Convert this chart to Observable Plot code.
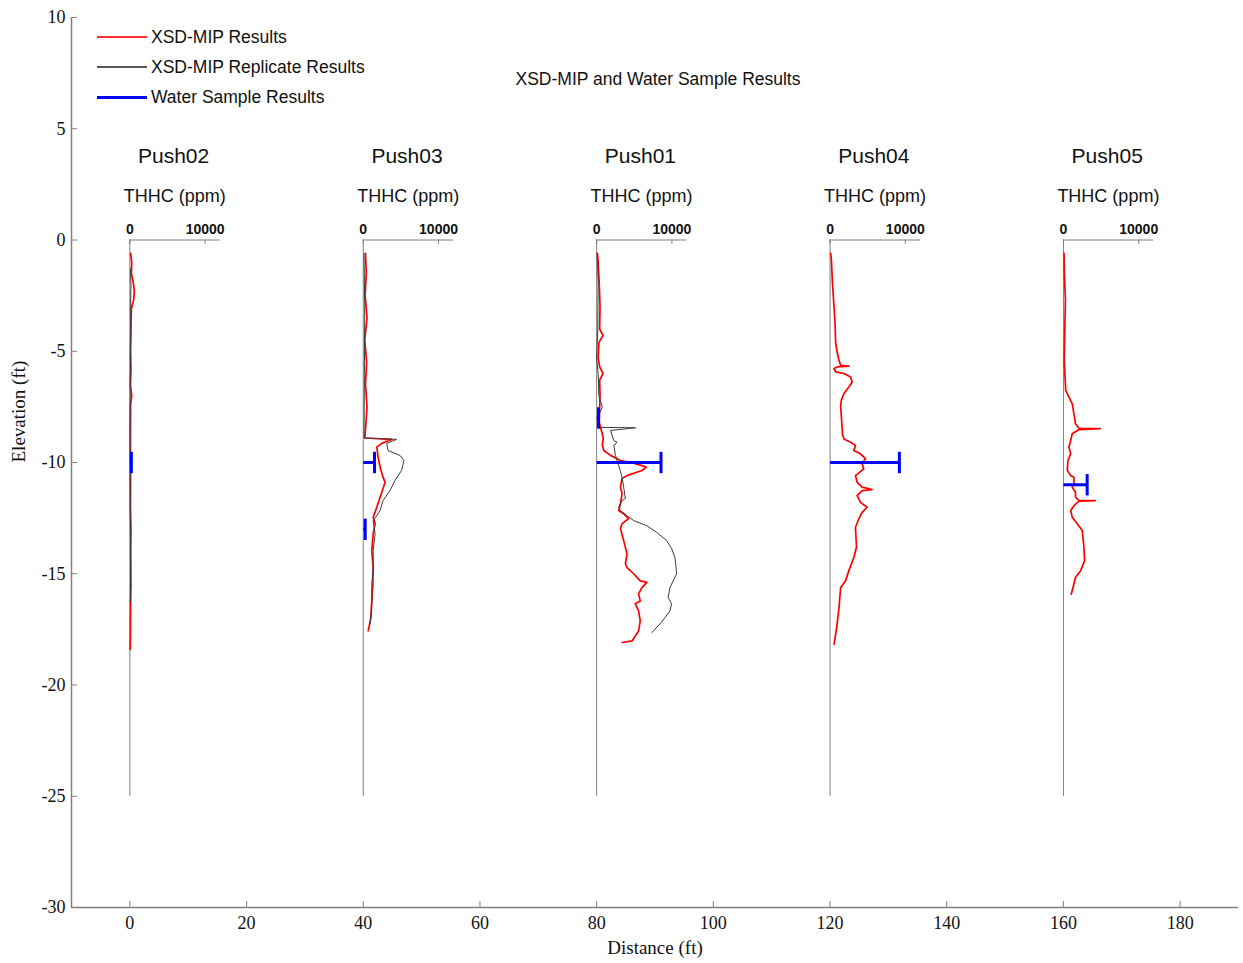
<!DOCTYPE html>
<html><head><meta charset="utf-8">
<script src="https://cdn.jsdelivr.net/npm/d3@7"></script>
<script src="https://cdn.jsdelivr.net/npm/@observablehq/plot@0.6"></script>
<style>
body{margin:0;background:#fff;}
#wrap{position:relative;width:1243px;height:963px;}
.ov{position:absolute;font-family:"Liberation Sans",Arial,sans-serif;font-size:17.5px;color:#111;white-space:nowrap;line-height:20px;height:20px;}
.sw{position:absolute;}
</style></head><body><div id="wrap"></div>
<script>
// ---------- data ----------
const pushes = ["Push02", "Push03", "Push01", "Push04", "Push05"];
const pushDistance = [0, 40, 80, 120, 160];
const pushDepth = -25;
const thhcTicks = [0, 10000];
const thhcAxisMax = 12000;
const xTicks = [0, 20, 40, 60, 80, 100, 120, 140, 160, 180];
const yTicks = [-30, -25, -20, -15, -10, -5, 0, 5, 10];
const xDomain = [-10, 190];
const yDomain = [-30, 10];

// XSD-MIP results [elevation ft, THHC ppm]
const push02Mip = [[-0.6,100],[-1.0,250],[-1.5,200],[-1.9,450],[-2.3,600],[-2.7,500],[-3.1,200],[-4.0,150],[-5.0,100],[-5.8,150],[-6.5,80],[-7.0,250],[-7.4,100],[-9.0,80],[-10.5,100],[-12.0,80],[-13.0,150],[-14.0,120],[-15.5,150],[-16.5,100],[-17.5,80],[-18.4,60]];
const push03Mip = [[-0.6,300],[-1.5,400],[-2.5,250],[-3.5,500],[-4.5,200],[-5.5,450],[-6.5,300],[-7.5,500],[-8.5,300],[-8.9,200],[-8.96,3780],[-9.14,2460],[-9.31,1800],[-9.76,1970],[-10.21,2240],[-10.66,2630],[-10.89,2900],[-11.17,2630],[-11.56,2240],[-12.01,1800],[-12.46,1320],[-12.75,1580],[-13.2,1320],[-13.96,1140],[-14.72,1320],[-15.45,1280],[-16.22,1140],[-16.97,1010],[-17.57,660]];
const push01Mip = [[-0.6,100],[-1.0,200],[-2.0,350],[-3.0,450],[-4.0,400],[-4.3,850],[-4.6,300],[-5.3,200],[-5.7,400],[-6.0,850],[-6.3,400],[-7.0,450],[-7.5,400],[-8.2,350],[-8.71,750],[-8.92,880],[-9.23,750],[-9.46,960],[-9.68,1840],[-9.91,3160],[-9.99,4470],[-10.14,6010],[-10.21,6580],[-10.36,6010],[-10.59,4040],[-10.72,3380],[-11.11,3160],[-11.4,3380],[-11.85,3160],[-12.16,2930],[-12.3,3590],[-12.46,4040],[-12.52,4250],[-12.75,3380],[-12.97,3160],[-13.51,3590],[-14.1,4040],[-14.55,3820],[-14.72,4040],[-15.0,4910],[-15.32,5790],[-15.39,6670],[-15.62,6010],[-15.9,5570],[-16.22,5790],[-16.35,5130],[-16.67,5570],[-17.12,5790],[-17.57,5570],[-18.02,4700],[-18.09,3380]];
const push04Mip = [[-0.6,90],[-0.9,180],[-1.95,320],[-3.0,530],[-3.74,660],[-4.64,750],[-5.09,970],[-5.41,1190],[-5.63,1410],[-5.67,2500],[-5.70,1000],[-5.78,530],[-5.93,750],[-6.0,1850],[-6.16,2720],[-6.38,2940],[-6.61,2500],[-6.9,1850],[-7.21,1490],[-7.51,1410],[-8.11,1540],[-8.56,1630],[-8.71,1630],[-8.94,1850],[-9.09,2720],[-9.23,3380],[-9.46,3160],[-9.61,4040],[-9.83,4700],[-10.06,4260],[-10.29,4480],[-10.59,3380],[-10.89,3600],[-11.11,4260],[-11.22,5570],[-11.26,4260],[-11.49,3600],[-11.79,4040],[-12.01,4920],[-12.24,4260],[-12.53,3820],[-12.91,3380],[-13.81,3510],[-14.27,3160],[-14.86,2500],[-15.32,2060],[-15.62,1410],[-16.52,1190],[-17.42,880],[-18.17,530]];
const push05Mip = [[-0.6,80],[-1.5,120],[-2.7,260],[-4.05,180],[-5.4,100],[-6.76,300],[-7.06,730],[-7.36,1170],[-7.81,1390],[-8.26,1600],[-8.46,2060],[-8.48,4900],[-8.52,2060],[-8.71,1170],[-9.01,960],[-9.31,730],[-9.61,960],[-9.91,600],[-10.36,510],[-10.59,960],[-10.66,1390],[-10.96,1390],[-11.11,1170],[-11.34,1600],[-11.56,1600],[-11.70,2060],[-11.71,4240],[-11.74,2060],[-11.94,1390],[-12.16,960],[-12.46,1170],[-12.75,1830],[-13.06,2500],[-13.81,2720],[-14.41,2810],[-14.86,2280],[-15.17,1600],[-15.46,1390],[-15.92,1040]];

// XSD-MIP replicate results
const push02Rep = [[-1.3,80],[-2.0,150],[-3.0,100],[-4.0,120],[-5.5,60],[-7.5,40],[-10.0,40],[-13.5,80],[-15.0,100],[-16.3,60]];
const push03Rep = [[-0.6,100],[-3.0,200],[-6.0,150],[-8.9,100],[-8.96,4430],[-9.14,3120],[-9.46,3290],[-9.68,4870],[-9.91,5400],[-10.36,5090],[-10.81,4210],[-11.26,3550],[-11.71,2630],[-12.16,2240],[-12.39,1800],[-12.61,1320],[-13.2,1580],[-13.96,1320],[-14.73,1320],[-15.45,1140],[-16.22,1140],[-16.98,1010],[-17.25,920]];
const push01Rep = [[-0.6,100],[-2.0,200],[-4.0,150],[-5.3,0],[-6.0,200],[-7.0,300],[-7.51,750],[-7.79,390],[-8.42,150],[-8.44,5170],[-8.56,1840],[-9.01,2280],[-9.09,2720],[-9.23,2280],[-9.68,2500],[-10.14,2930],[-10.66,3380],[-11.11,3590],[-11.62,3820],[-11.71,3380],[-12.01,2930],[-12.16,3160],[-12.39,4040],[-12.61,4910],[-12.84,6670],[-13.14,7990],[-13.51,9300],[-13.87,9960],[-14.27,10400],[-14.64,10530],[-15.0,10620],[-15.32,10170],[-15.62,9740],[-16.07,9510],[-16.35,9960],[-16.67,9740],[-16.97,9080],[-17.25,8420],[-17.64,7330]];

// Water sample results
const waterPush = ["Push02", "Push03", "Push03", "Push01", "Push01", "Push04", "Push05"];
const waterElev = [-10, -10, -13.0, -8.0, -10, -10, -11.0];
const waterPpm = [200, 1500, 260, 250, 8550, 9210, 3150];

// ---------- build ----------
const k = 0.00129; // ft of distance per ppm in the profile panels
const posOf = Object.fromEntries(pushes.map((p, i) => [p, pushDistance[i]]));
const pushRows = pushes.map((p, i) => ({name: p, pos: pushDistance[i]}));
const tickRows = pushRows.flatMap(d => thhcTicks.map(v => ({pos: d.pos, v})));
function rows(map) {
  const out = [];
  for (const [name, arr] of Object.entries(map)) for (const [e, p] of arr) out.push({push: name, elev: e, ppm: p});
  return out;
}
const mipRows = rows({Push02: push02Mip, Push03: push03Mip, Push01: push01Mip, Push04: push04Mip, Push05: push05Mip});
const repRows = rows({Push02: push02Rep, Push03: push03Rep, Push01: push01Rep});
const waterRows = waterPush.map((p, i) => ({push: p, elev: waterElev[i], ppm: waterPpm[i]}));
const px = d => posOf[d.push] + d.ppm * k;

const serif = "'Liberation Serif','Times New Roman',serif";
const sans = "'Liberation Sans',Arial,sans-serif";
const grey = "#808080";

const chart = Plot.plot({
  width: 1243, height: 963,
  marginLeft: 71, marginRight: 5, marginTop: 17, marginBottom: 56,
  x: {domain: xDomain},
  y: {domain: yDomain},
  style: {fontFamily: serif, background: "#fff"},
  marks: [
    Plot.ruleX([xDomain[0]], {stroke: grey, strokeWidth: 1.5}),
    Plot.ruleY([yDomain[0]], {stroke: grey, strokeWidth: 1.5}),
    Plot.axisX({ticks: xTicks, tickSize: -6, tickPadding: 15, fontSize: 18, stroke: grey, fill: "#111", label: null, tickFormat: d => String(d)}),
    Plot.axisY({ticks: yTicks, tickSize: -6, tickPadding: 12, fontSize: 18, stroke: grey, fill: "#111", label: null, tickFormat: d => String(d)}),
    Plot.text(["Distance (ft)"], {frameAnchor: "bottom", dy: 46, fontSize: 19, fill: "#111", fontFamily: serif}),
    Plot.text(["Elevation (ft)"], {frameAnchor: "left", dx: -53, rotate: -90, fontSize: 19, fill: "#111", fontFamily: serif}),
    // profile panels
    Plot.ruleX(pushRows, {x: "pos", y1: 0, y2: pushDepth, stroke: grey, strokeWidth: 1}),
    Plot.ruleY(pushRows, {y: 0, x1: "pos", x2: d => d.pos + thhcAxisMax * k, stroke: grey, strokeWidth: 1}),
    Plot.ruleX(tickRows, {x: d => d.pos + d.v * k, y1: 0, y2: -0.2, stroke: grey, strokeWidth: 1}),
    Plot.text(tickRows, {x: d => d.pos + d.v * k, y: 0, dy: -10, text: d => String(d.v), fontSize: 14, fontWeight: "bold", fontFamily: sans, fill: "#111"}),
    Plot.text(pushRows, {x: d => d.pos + 7.5, y: 0, dy: -84, text: "name", fontSize: 21, fontFamily: sans, fill: "#111"}),
    Plot.text(pushRows, {x: d => d.pos + 7.7, y: 0, dy: -44, text: () => "THHC (ppm)", fontSize: 18, fontFamily: sans, fill: "#111"}),
    Plot.line(mipRows, {x: px, y: "elev", z: "push", stroke: "#ff0000", strokeWidth: 1.7}),
    Plot.line(repRows, {x: px, y: "elev", z: "push", stroke: "#3c3c3c", strokeWidth: 1}),
    Plot.link(waterRows, {x1: d => posOf[d.push], x2: px, y1: "elev", y2: "elev", stroke: "#0000ff", strokeWidth: 3}),
    Plot.link(waterRows, {x1: px, x2: px, y1: d => d.elev - 0.48, y2: d => d.elev + 0.48, stroke: "#0000ff", strokeWidth: 3})
  ]
});
const wrap = document.getElementById("wrap");
wrap.appendChild(chart);

// in-plot legend and title overlay
const legendItems = [
  {label: "XSD-MIP Results", color: "#ff3030", w: 1.2, y: 37},
  {label: "XSD-MIP Replicate Results", color: "#555555", w: 1.2, y: 67},
  {label: "Water Sample Results", color: "#0000ff", w: 3, y: 97}
];
for (const it of legendItems) {
  const sw = document.createElement("div");
  sw.className = "sw";
  sw.style.left = "97px"; sw.style.width = "50px";
  sw.style.top = (it.y - it.w / 2) + "px";
  sw.style.height = it.w + "px";
  sw.style.background = it.color;
  wrap.appendChild(sw);
  const t = document.createElement("div");
  t.className = "ov";
  t.style.left = "151px"; t.style.top = (it.y - 10) + "px";
  t.textContent = it.label;
  wrap.appendChild(t);
}
const title = document.createElement("div");
title.className = "ov";
title.style.left = "658px"; title.style.top = "69px"; title.style.transform = "translateX(-50%)";
title.textContent = "XSD-MIP and Water Sample Results";
wrap.appendChild(title);
</script></body></html>
